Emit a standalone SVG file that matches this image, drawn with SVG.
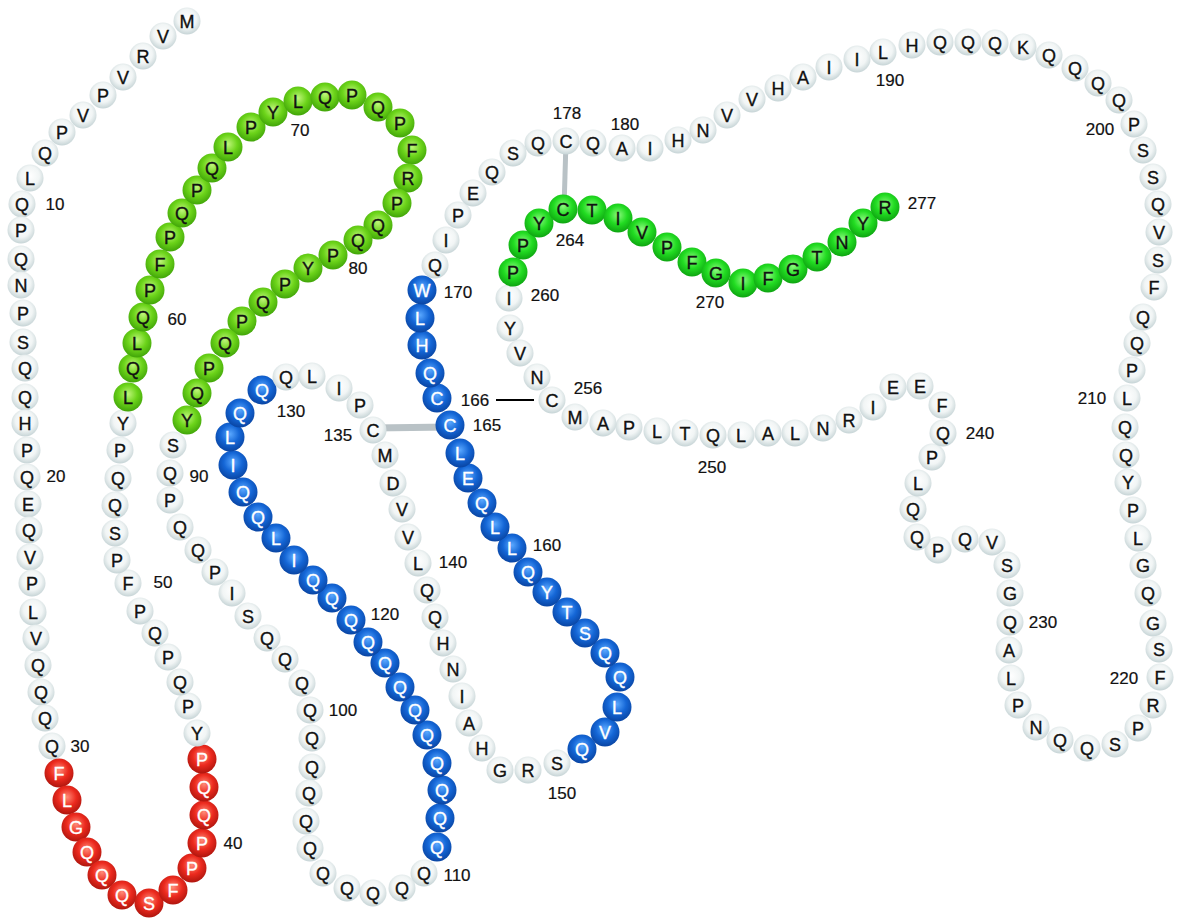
<svg xmlns="http://www.w3.org/2000/svg" width="1180" height="918" viewBox="0 0 1180 918">
<defs>
<radialGradient id="gw" cx="50%" cy="42%" r="58%"><stop offset="0" stop-color="#ffffff"/><stop offset="0.6" stop-color="#f1f5f5"/><stop offset="1" stop-color="#c6d4d6"/></radialGradient>
<radialGradient id="gg1" cx="50%" cy="40%" r="58%"><stop offset="0" stop-color="#bff57a"/><stop offset="0.55" stop-color="#6cd41a"/><stop offset="1" stop-color="#44a80a"/></radialGradient>
<radialGradient id="gg2" cx="50%" cy="40%" r="58%"><stop offset="0" stop-color="#8cf97e"/><stop offset="0.55" stop-color="#22dc22"/><stop offset="1" stop-color="#0fa812"/></radialGradient>
<radialGradient id="gb" cx="50%" cy="40%" r="58%"><stop offset="0" stop-color="#5aa8ff"/><stop offset="0.55" stop-color="#1466d6"/><stop offset="1" stop-color="#0a47a6"/></radialGradient>
<radialGradient id="gr" cx="50%" cy="40%" r="58%"><stop offset="0" stop-color="#ff8a78"/><stop offset="0.55" stop-color="#ec2a1e"/><stop offset="1" stop-color="#b3170f"/></radialGradient>
</defs>
<style>
text{font-family:"Liberation Sans",Arial,Helvetica,sans-serif;font-size:18px;text-anchor:middle;fill:#111;stroke:#111;stroke-width:0.35}
.w circle{fill:url(#gw)}
.g1 circle{fill:url(#gg1)}
.g2 circle{fill:url(#gg2)}
.b circle{fill:url(#gb)}
.r circle{fill:url(#gr)}
.b text,.r text{fill:#fff;stroke:#fff}
.lbl text{font-size:17px;stroke-width:0.2}
.ss{stroke:#b9c2c6;stroke-width:7;fill:none}
.ss2{stroke:#b9c2c6;stroke-width:5;fill:none}
.blk{stroke:#000;stroke-width:2;fill:none}
</style>
<rect width="1180" height="918" fill="#fff"/>
<g id="connectors">
<line class="ss" x1="373" y1="428" x2="450" y2="427"/>
<line class="ss2" x1="566" y1="141" x2="564" y2="209"/>
<line class="blk" x1="496" y1="400" x2="534" y2="400"/>
</g>
<g id="nodes">
<g id="r1" class="w"><circle cx="187" cy="21" r="13.5"/><text x="187" y="27.5">M</text></g>
<g id="r2" class="w"><circle cx="163" cy="36" r="13.5"/><text x="163" y="42.5">V</text></g>
<g id="r3" class="w"><circle cx="143" cy="56" r="13.5"/><text x="143" y="62.5">R</text></g>
<g id="r4" class="w"><circle cx="123" cy="77" r="13.5"/><text x="123" y="83.5">V</text></g>
<g id="r5" class="w"><circle cx="103" cy="95" r="13.5"/><text x="103" y="101.5">P</text></g>
<g id="r6" class="w"><circle cx="83" cy="115" r="13.5"/><text x="83" y="121.5">V</text></g>
<g id="r7" class="w"><circle cx="62" cy="132" r="13.5"/><text x="62" y="138.5">P</text></g>
<g id="r8" class="w"><circle cx="45" cy="153" r="13.5"/><text x="45" y="159.5">Q</text></g>
<g id="r9" class="w"><circle cx="30" cy="178" r="13.5"/><text x="30" y="184.5">L</text></g>
<g id="r10" class="w"><circle cx="22" cy="204" r="13.5"/><text x="22" y="210.5">Q</text></g>
<g id="r11" class="w"><circle cx="21" cy="230" r="13.5"/><text x="21" y="236.5">P</text></g>
<g id="r12" class="w"><circle cx="21" cy="259" r="13.5"/><text x="21" y="265.5">Q</text></g>
<g id="r13" class="w"><circle cx="21" cy="285" r="13.5"/><text x="21" y="291.5">N</text></g>
<g id="r14" class="w"><circle cx="23" cy="313" r="13.5"/><text x="23" y="319.5">P</text></g>
<g id="r15" class="w"><circle cx="23" cy="342" r="13.5"/><text x="23" y="348.5">S</text></g>
<g id="r16" class="w"><circle cx="25" cy="368" r="13.5"/><text x="25" y="374.5">Q</text></g>
<g id="r17" class="w"><circle cx="25" cy="397" r="13.5"/><text x="25" y="403.5">Q</text></g>
<g id="r18" class="w"><circle cx="25" cy="423" r="13.5"/><text x="25" y="429.5">H</text></g>
<g id="r19" class="w"><circle cx="27" cy="450" r="13.5"/><text x="27" y="456.5">P</text></g>
<g id="r20" class="w"><circle cx="27" cy="477" r="13.5"/><text x="27" y="483.5">Q</text></g>
<g id="r21" class="w"><circle cx="28" cy="504" r="13.5"/><text x="28" y="510.5">E</text></g>
<g id="r22" class="w"><circle cx="29" cy="530" r="13.5"/><text x="29" y="536.5">Q</text></g>
<g id="r23" class="w"><circle cx="30" cy="557" r="13.5"/><text x="30" y="563.5">V</text></g>
<g id="r24" class="w"><circle cx="32" cy="583" r="13.5"/><text x="32" y="589.5">P</text></g>
<g id="r25" class="w"><circle cx="33" cy="612" r="13.5"/><text x="33" y="618.5">L</text></g>
<g id="r26" class="w"><circle cx="36" cy="638" r="13.5"/><text x="36" y="644.5">V</text></g>
<g id="r27" class="w"><circle cx="38" cy="665" r="13.5"/><text x="38" y="671.5">Q</text></g>
<g id="r28" class="w"><circle cx="41" cy="692" r="13.5"/><text x="41" y="698.5">Q</text></g>
<g id="r29" class="w"><circle cx="45" cy="718" r="13.5"/><text x="45" y="724.5">Q</text></g>
<g id="r30" class="w"><circle cx="52" cy="746" r="13.5"/><text x="52" y="752.5">Q</text></g>
<g id="r31" class="r"><circle cx="59" cy="773" r="14.5"/><text x="59" y="779.5">F</text></g>
<g id="r32" class="r"><circle cx="67" cy="800" r="14.5"/><text x="67" y="806.5">L</text></g>
<g id="r33" class="r"><circle cx="76" cy="827" r="14.5"/><text x="76" y="833.5">G</text></g>
<g id="r34" class="r"><circle cx="87" cy="852" r="14.5"/><text x="87" y="858.5">Q</text></g>
<g id="r35" class="r"><circle cx="102" cy="875" r="14.5"/><text x="102" y="881.5">Q</text></g>
<g id="r36" class="r"><circle cx="122" cy="895" r="14.5"/><text x="122" y="901.5">Q</text></g>
<g id="r37" class="r"><circle cx="149" cy="903" r="14.5"/><text x="149" y="909.5">S</text></g>
<g id="r38" class="r"><circle cx="173" cy="890" r="14.5"/><text x="173" y="896.5">F</text></g>
<g id="r39" class="r"><circle cx="192" cy="868" r="14.5"/><text x="192" y="874.5">P</text></g>
<g id="r40" class="r"><circle cx="202" cy="843" r="14.5"/><text x="202" y="849.5">P</text></g>
<g id="r41" class="r"><circle cx="204" cy="815" r="14.5"/><text x="204" y="821.5">Q</text></g>
<g id="r42" class="r"><circle cx="204" cy="787" r="14.5"/><text x="204" y="793.5">Q</text></g>
<g id="r43" class="r"><circle cx="202" cy="759" r="14.5"/><text x="202" y="765.5">P</text></g>
<g id="r44" class="w"><circle cx="197" cy="733" r="13.5"/><text x="197" y="739.5">Y</text></g>
<g id="r45" class="w"><circle cx="188" cy="706" r="13.5"/><text x="188" y="712.5">P</text></g>
<g id="r46" class="w"><circle cx="180" cy="682" r="13.5"/><text x="180" y="688.5">Q</text></g>
<g id="r47" class="w"><circle cx="168" cy="657" r="13.5"/><text x="168" y="663.5">P</text></g>
<g id="r48" class="w"><circle cx="155" cy="633" r="13.5"/><text x="155" y="639.5">Q</text></g>
<g id="r49" class="w"><circle cx="140" cy="611" r="13.5"/><text x="140" y="617.5">P</text></g>
<g id="r50" class="w"><circle cx="128" cy="583" r="13.5"/><text x="128" y="589.5">F</text></g>
<g id="r51" class="w"><circle cx="117" cy="560" r="13.5"/><text x="117" y="566.5">P</text></g>
<g id="r52" class="w"><circle cx="115" cy="533" r="13.5"/><text x="115" y="539.5">S</text></g>
<g id="r53" class="w"><circle cx="115" cy="505" r="13.5"/><text x="115" y="511.5">Q</text></g>
<g id="r54" class="w"><circle cx="118" cy="478" r="13.5"/><text x="118" y="484.5">Q</text></g>
<g id="r55" class="w"><circle cx="120" cy="450" r="13.5"/><text x="120" y="456.5">P</text></g>
<g id="r56" class="w"><circle cx="123" cy="423" r="13.5"/><text x="123" y="429.5">Y</text></g>
<g id="r57" class="g1"><circle cx="128" cy="397" r="14.5"/><text x="128" y="403.5">L</text></g>
<g id="r58" class="g1"><circle cx="133" cy="368" r="14.5"/><text x="133" y="374.5">Q</text></g>
<g id="r59" class="g1"><circle cx="137" cy="343" r="14.5"/><text x="137" y="349.5">L</text></g>
<g id="r60" class="g1"><circle cx="143" cy="317" r="14.5"/><text x="143" y="323.5">Q</text></g>
<g id="r61" class="g1"><circle cx="150" cy="290" r="14.5"/><text x="150" y="296.5">P</text></g>
<g id="r62" class="g1"><circle cx="160" cy="264" r="14.5"/><text x="160" y="270.5">F</text></g>
<g id="r63" class="g1"><circle cx="170" cy="237" r="14.5"/><text x="170" y="243.5">P</text></g>
<g id="r64" class="g1"><circle cx="182" cy="213" r="14.5"/><text x="182" y="219.5">Q</text></g>
<g id="r65" class="g1"><circle cx="197" cy="190" r="14.5"/><text x="197" y="196.5">P</text></g>
<g id="r66" class="g1"><circle cx="212" cy="168" r="14.5"/><text x="212" y="174.5">Q</text></g>
<g id="r67" class="g1"><circle cx="228" cy="147" r="14.5"/><text x="228" y="153.5">L</text></g>
<g id="r68" class="g1"><circle cx="251" cy="127" r="14.5"/><text x="251" y="133.5">P</text></g>
<g id="r69" class="g1"><circle cx="273" cy="112" r="14.5"/><text x="273" y="118.5">Y</text></g>
<g id="r70" class="g1"><circle cx="298" cy="101" r="14.5"/><text x="298" y="107.5">L</text></g>
<g id="r71" class="g1"><circle cx="325" cy="97" r="14.5"/><text x="325" y="103.5">Q</text></g>
<g id="r72" class="g1"><circle cx="352" cy="95" r="14.5"/><text x="352" y="101.5">P</text></g>
<g id="r73" class="g1"><circle cx="378" cy="107" r="14.5"/><text x="378" y="113.5">Q</text></g>
<g id="r74" class="g1"><circle cx="400" cy="123" r="14.5"/><text x="400" y="129.5">P</text></g>
<g id="r75" class="g1"><circle cx="412" cy="150" r="14.5"/><text x="412" y="156.5">F</text></g>
<g id="r76" class="g1"><circle cx="408" cy="178" r="14.5"/><text x="408" y="184.5">R</text></g>
<g id="r77" class="g1"><circle cx="397" cy="203" r="14.5"/><text x="397" y="209.5">P</text></g>
<g id="r78" class="g1"><circle cx="378" cy="225" r="14.5"/><text x="378" y="231.5">Q</text></g>
<g id="r79" class="g1"><circle cx="358" cy="240" r="14.5"/><text x="358" y="246.5">Q</text></g>
<g id="r80" class="g1"><circle cx="333" cy="255" r="14.5"/><text x="333" y="261.5">P</text></g>
<g id="r81" class="g1"><circle cx="308" cy="268" r="14.5"/><text x="308" y="274.5">Y</text></g>
<g id="r82" class="g1"><circle cx="285" cy="284" r="14.5"/><text x="285" y="290.5">P</text></g>
<g id="r83" class="g1"><circle cx="263" cy="302" r="14.5"/><text x="263" y="308.5">Q</text></g>
<g id="r84" class="g1"><circle cx="242" cy="321" r="14.5"/><text x="242" y="327.5">P</text></g>
<g id="r85" class="g1"><circle cx="225" cy="343" r="14.5"/><text x="225" y="349.5">Q</text></g>
<g id="r86" class="g1"><circle cx="209" cy="368" r="14.5"/><text x="209" y="374.5">P</text></g>
<g id="r87" class="g1"><circle cx="197" cy="393" r="14.5"/><text x="197" y="399.5">Q</text></g>
<g id="r88" class="g1"><circle cx="187" cy="420" r="14.5"/><text x="187" y="426.5">Y</text></g>
<g id="r89" class="w"><circle cx="173" cy="445" r="13.5"/><text x="173" y="451.5">S</text></g>
<g id="r90" class="w"><circle cx="170" cy="473" r="13.5"/><text x="170" y="479.5">Q</text></g>
<g id="r91" class="w"><circle cx="170" cy="500" r="13.5"/><text x="170" y="506.5">P</text></g>
<g id="r92" class="w"><circle cx="180" cy="527" r="13.5"/><text x="180" y="533.5">Q</text></g>
<g id="r93" class="w"><circle cx="198" cy="550" r="13.5"/><text x="198" y="556.5">Q</text></g>
<g id="r94" class="w"><circle cx="215" cy="572" r="13.5"/><text x="215" y="578.5">P</text></g>
<g id="r95" class="w"><circle cx="232" cy="593" r="13.5"/><text x="232" y="599.5">I</text></g>
<g id="r96" class="w"><circle cx="248" cy="616" r="13.5"/><text x="248" y="622.5">S</text></g>
<g id="r97" class="w"><circle cx="267" cy="638" r="13.5"/><text x="267" y="644.5">Q</text></g>
<g id="r98" class="w"><circle cx="285" cy="659" r="13.5"/><text x="285" y="665.5">Q</text></g>
<g id="r99" class="w"><circle cx="302" cy="683" r="13.5"/><text x="302" y="689.5">Q</text></g>
<g id="r100" class="w"><circle cx="310" cy="710" r="13.5"/><text x="310" y="716.5">Q</text></g>
<g id="r101" class="w"><circle cx="312" cy="738" r="13.5"/><text x="312" y="744.5">Q</text></g>
<g id="r102" class="w"><circle cx="312" cy="767" r="13.5"/><text x="312" y="773.5">Q</text></g>
<g id="r103" class="w"><circle cx="309" cy="793" r="13.5"/><text x="309" y="799.5">Q</text></g>
<g id="r104" class="w"><circle cx="306" cy="821" r="13.5"/><text x="306" y="827.5">Q</text></g>
<g id="r105" class="w"><circle cx="310" cy="848" r="13.5"/><text x="310" y="854.5">Q</text></g>
<g id="r106" class="w"><circle cx="323" cy="873" r="13.5"/><text x="323" y="879.5">Q</text></g>
<g id="r107" class="w"><circle cx="347" cy="888" r="13.5"/><text x="347" y="894.5">Q</text></g>
<g id="r108" class="w"><circle cx="373" cy="893" r="13.5"/><text x="373" y="899.5">Q</text></g>
<g id="r109" class="w"><circle cx="402" cy="888" r="13.5"/><text x="402" y="894.5">Q</text></g>
<g id="r110" class="w"><circle cx="424" cy="873" r="13.5"/><text x="424" y="879.5">Q</text></g>
<g id="r111" class="b"><circle cx="437" cy="847" r="14.5"/><text x="437" y="853.5">Q</text></g>
<g id="r112" class="b"><circle cx="440" cy="818" r="14.5"/><text x="440" y="824.5">Q</text></g>
<g id="r113" class="b"><circle cx="442" cy="790" r="14.5"/><text x="442" y="796.5">Q</text></g>
<g id="r114" class="b"><circle cx="437" cy="763" r="14.5"/><text x="437" y="769.5">Q</text></g>
<g id="r115" class="b"><circle cx="427" cy="735" r="14.5"/><text x="427" y="741.5">Q</text></g>
<g id="r116" class="b"><circle cx="415" cy="710" r="14.5"/><text x="415" y="716.5">Q</text></g>
<g id="r117" class="b"><circle cx="400" cy="687" r="14.5"/><text x="400" y="693.5">Q</text></g>
<g id="r118" class="b"><circle cx="385" cy="663" r="14.5"/><text x="385" y="669.5">Q</text></g>
<g id="r119" class="b"><circle cx="368" cy="642" r="14.5"/><text x="368" y="648.5">Q</text></g>
<g id="r120" class="b"><circle cx="351" cy="620" r="14.5"/><text x="351" y="626.5">Q</text></g>
<g id="r121" class="b"><circle cx="332" cy="598" r="14.5"/><text x="332" y="604.5">Q</text></g>
<g id="r122" class="b"><circle cx="313" cy="580" r="14.5"/><text x="313" y="586.5">Q</text></g>
<g id="r123" class="b"><circle cx="294" cy="560" r="14.5"/><text x="294" y="566.5">I</text></g>
<g id="r124" class="b"><circle cx="276" cy="538" r="14.5"/><text x="276" y="544.5">L</text></g>
<g id="r125" class="b"><circle cx="258" cy="517" r="14.5"/><text x="258" y="523.5">Q</text></g>
<g id="r126" class="b"><circle cx="243" cy="492" r="14.5"/><text x="243" y="498.5">Q</text></g>
<g id="r127" class="b"><circle cx="233" cy="465" r="14.5"/><text x="233" y="471.5">I</text></g>
<g id="r128" class="b"><circle cx="230" cy="437" r="14.5"/><text x="230" y="443.5">L</text></g>
<g id="r129" class="b"><circle cx="240" cy="413" r="14.5"/><text x="240" y="419.5">Q</text></g>
<g id="r130" class="b"><circle cx="262" cy="390" r="14.5"/><text x="262" y="396.5">Q</text></g>
<g id="r131" class="w"><circle cx="286" cy="377" r="13.5"/><text x="286" y="383.5">Q</text></g>
<g id="r132" class="w"><circle cx="312" cy="376" r="13.5"/><text x="312" y="382.5">L</text></g>
<g id="r133" class="w"><circle cx="339" cy="388" r="13.5"/><text x="339" y="394.5">I</text></g>
<g id="r134" class="w"><circle cx="360" cy="405" r="13.5"/><text x="360" y="411.5">P</text></g>
<g id="r135" class="w"><circle cx="373" cy="430" r="13.5"/><text x="373" y="436.5">C</text></g>
<g id="r136" class="w"><circle cx="385" cy="455" r="13.5"/><text x="385" y="461.5">M</text></g>
<g id="r137" class="w"><circle cx="393" cy="483" r="13.5"/><text x="393" y="489.5">D</text></g>
<g id="r138" class="w"><circle cx="402" cy="509" r="13.5"/><text x="402" y="515.5">V</text></g>
<g id="r139" class="w"><circle cx="408" cy="537" r="13.5"/><text x="408" y="543.5">V</text></g>
<g id="r140" class="w"><circle cx="418" cy="563" r="13.5"/><text x="418" y="569.5">L</text></g>
<g id="r141" class="w"><circle cx="427" cy="590" r="13.5"/><text x="427" y="596.5">Q</text></g>
<g id="r142" class="w"><circle cx="435" cy="617" r="13.5"/><text x="435" y="623.5">Q</text></g>
<g id="r143" class="w"><circle cx="443" cy="643" r="13.5"/><text x="443" y="649.5">H</text></g>
<g id="r144" class="w"><circle cx="453" cy="669" r="13.5"/><text x="453" y="675.5">N</text></g>
<g id="r145" class="w"><circle cx="462" cy="696" r="13.5"/><text x="462" y="702.5">I</text></g>
<g id="r146" class="w"><circle cx="469" cy="723" r="13.5"/><text x="469" y="729.5">A</text></g>
<g id="r147" class="w"><circle cx="482" cy="748" r="13.5"/><text x="482" y="754.5">H</text></g>
<g id="r148" class="w"><circle cx="500" cy="770" r="13.5"/><text x="500" y="776.5">G</text></g>
<g id="r149" class="w"><circle cx="528" cy="770" r="13.5"/><text x="528" y="776.5">R</text></g>
<g id="r150" class="w"><circle cx="557" cy="763" r="13.5"/><text x="557" y="769.5">S</text></g>
<g id="r151" class="b"><circle cx="582" cy="749" r="14.5"/><text x="582" y="755.5">Q</text></g>
<g id="r152" class="b"><circle cx="605" cy="732" r="14.5"/><text x="605" y="738.5">V</text></g>
<g id="r153" class="b"><circle cx="617" cy="707" r="14.5"/><text x="617" y="713.5">L</text></g>
<g id="r154" class="b"><circle cx="620" cy="677" r="14.5"/><text x="620" y="683.5">Q</text></g>
<g id="r155" class="b"><circle cx="605" cy="653" r="14.5"/><text x="605" y="659.5">Q</text></g>
<g id="r156" class="b"><circle cx="585" cy="633" r="14.5"/><text x="585" y="639.5">S</text></g>
<g id="r157" class="b"><circle cx="567" cy="612" r="14.5"/><text x="567" y="618.5">T</text></g>
<g id="r158" class="b"><circle cx="547" cy="592" r="14.5"/><text x="547" y="598.5">Y</text></g>
<g id="r159" class="b"><circle cx="528" cy="572" r="14.5"/><text x="528" y="578.5">Q</text></g>
<g id="r160" class="b"><circle cx="512" cy="548" r="14.5"/><text x="512" y="554.5">L</text></g>
<g id="r161" class="b"><circle cx="495" cy="527" r="14.5"/><text x="495" y="533.5">L</text></g>
<g id="r162" class="b"><circle cx="482" cy="503" r="14.5"/><text x="482" y="509.5">Q</text></g>
<g id="r163" class="b"><circle cx="468" cy="478" r="14.5"/><text x="468" y="484.5">E</text></g>
<g id="r164" class="b"><circle cx="460" cy="453" r="14.5"/><text x="460" y="459.5">L</text></g>
<g id="r165" class="b"><circle cx="450" cy="425" r="14.5"/><text x="450" y="431.5">C</text></g>
<g id="r166" class="b"><circle cx="437" cy="398" r="14.5"/><text x="437" y="404.5">C</text></g>
<g id="r167" class="b"><circle cx="430" cy="373" r="14.5"/><text x="430" y="379.5">Q</text></g>
<g id="r168" class="b"><circle cx="422" cy="345" r="14.5"/><text x="422" y="351.5">H</text></g>
<g id="r169" class="b"><circle cx="420" cy="318" r="14.5"/><text x="420" y="324.5">L</text></g>
<g id="r170" class="b"><circle cx="422" cy="290" r="14.5"/><text x="422" y="296.5">W</text></g>
<g id="r171" class="w"><circle cx="435" cy="265" r="13.5"/><text x="435" y="271.5">Q</text></g>
<g id="r172" class="w"><circle cx="446" cy="240" r="13.5"/><text x="446" y="246.5">I</text></g>
<g id="r173" class="w"><circle cx="458" cy="215" r="13.5"/><text x="458" y="221.5">P</text></g>
<g id="r174" class="w"><circle cx="473" cy="193" r="13.5"/><text x="473" y="199.5">E</text></g>
<g id="r175" class="w"><circle cx="492" cy="172" r="13.5"/><text x="492" y="178.5">Q</text></g>
<g id="r176" class="w"><circle cx="513" cy="153" r="13.5"/><text x="513" y="159.5">S</text></g>
<g id="r177" class="w"><circle cx="538" cy="143" r="13.5"/><text x="538" y="149.5">Q</text></g>
<g id="r178" class="w"><circle cx="566" cy="141" r="13.5"/><text x="566" y="147.5">C</text></g>
<g id="r179" class="w"><circle cx="593" cy="143" r="13.5"/><text x="593" y="149.5">Q</text></g>
<g id="r180" class="w"><circle cx="622" cy="148" r="13.5"/><text x="622" y="154.5">A</text></g>
<g id="r181" class="w"><circle cx="650" cy="148" r="13.5"/><text x="650" y="154.5">I</text></g>
<g id="r182" class="w"><circle cx="678" cy="140" r="13.5"/><text x="678" y="146.5">H</text></g>
<g id="r183" class="w"><circle cx="703" cy="130" r="13.5"/><text x="703" y="136.5">N</text></g>
<g id="r184" class="w"><circle cx="727" cy="115" r="13.5"/><text x="727" y="121.5">V</text></g>
<g id="r185" class="w"><circle cx="752" cy="99" r="13.5"/><text x="752" y="105.5">V</text></g>
<g id="r186" class="w"><circle cx="778" cy="88" r="13.5"/><text x="778" y="94.5">H</text></g>
<g id="r187" class="w"><circle cx="803" cy="77" r="13.5"/><text x="803" y="83.5">A</text></g>
<g id="r188" class="w"><circle cx="829" cy="67" r="13.5"/><text x="829" y="73.5">I</text></g>
<g id="r189" class="w"><circle cx="857" cy="59" r="13.5"/><text x="857" y="65.5">I</text></g>
<g id="r190" class="w"><circle cx="883" cy="52" r="13.5"/><text x="883" y="58.5">L</text></g>
<g id="r191" class="w"><circle cx="912" cy="45" r="13.5"/><text x="912" y="51.5">H</text></g>
<g id="r192" class="w"><circle cx="940" cy="42" r="13.5"/><text x="940" y="48.5">Q</text></g>
<g id="r193" class="w"><circle cx="968" cy="42" r="13.5"/><text x="968" y="48.5">Q</text></g>
<g id="r194" class="w"><circle cx="995" cy="43" r="13.5"/><text x="995" y="49.5">Q</text></g>
<g id="r195" class="w"><circle cx="1023" cy="47" r="13.5"/><text x="1023" y="53.5">K</text></g>
<g id="r196" class="w"><circle cx="1049" cy="55" r="13.5"/><text x="1049" y="61.5">Q</text></g>
<g id="r197" class="w"><circle cx="1075" cy="68" r="13.5"/><text x="1075" y="74.5">Q</text></g>
<g id="r198" class="w"><circle cx="1098" cy="83" r="13.5"/><text x="1098" y="89.5">Q</text></g>
<g id="r199" class="w"><circle cx="1119" cy="100" r="13.5"/><text x="1119" y="106.5">Q</text></g>
<g id="r200" class="w"><circle cx="1134" cy="124" r="13.5"/><text x="1134" y="130.5">P</text></g>
<g id="r201" class="w"><circle cx="1143" cy="150" r="13.5"/><text x="1143" y="156.5">S</text></g>
<g id="r202" class="w"><circle cx="1153" cy="177" r="13.5"/><text x="1153" y="183.5">S</text></g>
<g id="r203" class="w"><circle cx="1158" cy="204" r="13.5"/><text x="1158" y="210.5">Q</text></g>
<g id="r204" class="w"><circle cx="1159" cy="232" r="13.5"/><text x="1159" y="238.5">V</text></g>
<g id="r205" class="w"><circle cx="1158" cy="260" r="13.5"/><text x="1158" y="266.5">S</text></g>
<g id="r206" class="w"><circle cx="1154" cy="287" r="13.5"/><text x="1154" y="293.5">F</text></g>
<g id="r207" class="w"><circle cx="1143" cy="317" r="13.5"/><text x="1143" y="323.5">Q</text></g>
<g id="r208" class="w"><circle cx="1137" cy="343" r="13.5"/><text x="1137" y="349.5">Q</text></g>
<g id="r209" class="w"><circle cx="1132" cy="370" r="13.5"/><text x="1132" y="376.5">P</text></g>
<g id="r210" class="w"><circle cx="1127" cy="398" r="13.5"/><text x="1127" y="404.5">L</text></g>
<g id="r211" class="w"><circle cx="1125" cy="427" r="13.5"/><text x="1125" y="433.5">Q</text></g>
<g id="r212" class="w"><circle cx="1126" cy="455" r="13.5"/><text x="1126" y="461.5">Q</text></g>
<g id="r213" class="w"><circle cx="1128" cy="482" r="13.5"/><text x="1128" y="488.5">Y</text></g>
<g id="r214" class="w"><circle cx="1133" cy="510" r="13.5"/><text x="1133" y="516.5">P</text></g>
<g id="r215" class="w"><circle cx="1138" cy="538" r="13.5"/><text x="1138" y="544.5">L</text></g>
<g id="r216" class="w"><circle cx="1143" cy="565" r="13.5"/><text x="1143" y="571.5">G</text></g>
<g id="r217" class="w"><circle cx="1148" cy="593" r="13.5"/><text x="1148" y="599.5">Q</text></g>
<g id="r218" class="w"><circle cx="1153" cy="623" r="13.5"/><text x="1153" y="629.5">G</text></g>
<g id="r219" class="w"><circle cx="1159" cy="649" r="13.5"/><text x="1159" y="655.5">S</text></g>
<g id="r220" class="w"><circle cx="1160" cy="677" r="13.5"/><text x="1160" y="683.5">F</text></g>
<g id="r221" class="w"><circle cx="1153" cy="705" r="13.5"/><text x="1153" y="711.5">R</text></g>
<g id="r222" class="w"><circle cx="1138" cy="728" r="13.5"/><text x="1138" y="734.5">P</text></g>
<g id="r223" class="w"><circle cx="1115" cy="744" r="13.5"/><text x="1115" y="750.5">S</text></g>
<g id="r224" class="w"><circle cx="1087" cy="748" r="13.5"/><text x="1087" y="754.5">Q</text></g>
<g id="r225" class="w"><circle cx="1060" cy="740" r="13.5"/><text x="1060" y="746.5">Q</text></g>
<g id="r226" class="w"><circle cx="1036" cy="727" r="13.5"/><text x="1036" y="733.5">N</text></g>
<g id="r227" class="w"><circle cx="1018" cy="705" r="13.5"/><text x="1018" y="711.5">P</text></g>
<g id="r228" class="w"><circle cx="1011" cy="678" r="13.5"/><text x="1011" y="684.5">L</text></g>
<g id="r229" class="w"><circle cx="1009" cy="650" r="13.5"/><text x="1009" y="656.5">A</text></g>
<g id="r230" class="w"><circle cx="1010" cy="622" r="13.5"/><text x="1010" y="628.5">Q</text></g>
<g id="r231" class="w"><circle cx="1010" cy="593" r="13.5"/><text x="1010" y="599.5">G</text></g>
<g id="r232" class="w"><circle cx="1007" cy="565" r="13.5"/><text x="1007" y="571.5">S</text></g>
<g id="r233" class="w"><circle cx="992" cy="542" r="13.5"/><text x="992" y="548.5">V</text></g>
<g id="r234" class="w"><circle cx="965" cy="539" r="13.5"/><text x="965" y="545.5">Q</text></g>
<g id="r235" class="w"><circle cx="938" cy="550" r="13.5"/><text x="938" y="556.5">P</text></g>
<g id="r236" class="w"><circle cx="917" cy="537" r="13.5"/><text x="917" y="543.5">Q</text></g>
<g id="r237" class="w"><circle cx="913" cy="509" r="13.5"/><text x="913" y="515.5">Q</text></g>
<g id="r238" class="w"><circle cx="918" cy="483" r="13.5"/><text x="918" y="489.5">L</text></g>
<g id="r239" class="w"><circle cx="932" cy="457" r="13.5"/><text x="932" y="463.5">P</text></g>
<g id="r240" class="w"><circle cx="943" cy="433" r="13.5"/><text x="943" y="439.5">Q</text></g>
<g id="r241" class="w"><circle cx="942" cy="405" r="13.5"/><text x="942" y="411.5">F</text></g>
<g id="r242" class="w"><circle cx="920" cy="386" r="13.5"/><text x="920" y="392.5">E</text></g>
<g id="r243" class="w"><circle cx="893" cy="387" r="13.5"/><text x="893" y="393.5">E</text></g>
<g id="r244" class="w"><circle cx="873" cy="407" r="13.5"/><text x="873" y="413.5">I</text></g>
<g id="r245" class="w"><circle cx="849" cy="420" r="13.5"/><text x="849" y="426.5">R</text></g>
<g id="r246" class="w"><circle cx="823" cy="428" r="13.5"/><text x="823" y="434.5">N</text></g>
<g id="r247" class="w"><circle cx="795" cy="433" r="13.5"/><text x="795" y="439.5">L</text></g>
<g id="r248" class="w"><circle cx="768" cy="433" r="13.5"/><text x="768" y="439.5">A</text></g>
<g id="r249" class="w"><circle cx="741" cy="435" r="13.5"/><text x="741" y="441.5">L</text></g>
<g id="r250" class="w"><circle cx="713" cy="435" r="13.5"/><text x="713" y="441.5">Q</text></g>
<g id="r251" class="w"><circle cx="685" cy="433" r="13.5"/><text x="685" y="439.5">T</text></g>
<g id="r252" class="w"><circle cx="657" cy="431" r="13.5"/><text x="657" y="437.5">L</text></g>
<g id="r253" class="w"><circle cx="629" cy="427" r="13.5"/><text x="629" y="433.5">P</text></g>
<g id="r254" class="w"><circle cx="603" cy="423" r="13.5"/><text x="603" y="429.5">A</text></g>
<g id="r255" class="w"><circle cx="575" cy="417" r="13.5"/><text x="575" y="423.5">M</text></g>
<g id="r256" class="w"><circle cx="552" cy="400" r="13.5"/><text x="552" y="406.5">C</text></g>
<g id="r257" class="w"><circle cx="537" cy="377" r="13.5"/><text x="537" y="383.5">N</text></g>
<g id="r258" class="w"><circle cx="520" cy="353" r="13.5"/><text x="520" y="359.5">V</text></g>
<g id="r259" class="w"><circle cx="510" cy="328" r="13.5"/><text x="510" y="334.5">Y</text></g>
<g id="r260" class="w"><circle cx="509" cy="298" r="13.5"/><text x="509" y="304.5">I</text></g>
<g id="r261" class="g2"><circle cx="513" cy="272" r="14.5"/><text x="513" y="278.5">P</text></g>
<g id="r262" class="g2"><circle cx="523" cy="245" r="14.5"/><text x="523" y="251.5">P</text></g>
<g id="r263" class="g2"><circle cx="539" cy="223" r="14.5"/><text x="539" y="229.5">Y</text></g>
<g id="r264" class="g2"><circle cx="563" cy="209" r="14.5"/><text x="563" y="215.5">C</text></g>
<g id="r265" class="g2"><circle cx="592" cy="210" r="14.5"/><text x="592" y="216.5">T</text></g>
<g id="r266" class="g2"><circle cx="618" cy="218" r="14.5"/><text x="618" y="224.5">I</text></g>
<g id="r267" class="g2"><circle cx="642" cy="232" r="14.5"/><text x="642" y="238.5">V</text></g>
<g id="r268" class="g2"><circle cx="667" cy="247" r="14.5"/><text x="667" y="253.5">P</text></g>
<g id="r269" class="g2"><circle cx="692" cy="262" r="14.5"/><text x="692" y="268.5">F</text></g>
<g id="r270" class="g2"><circle cx="716" cy="273" r="14.5"/><text x="716" y="279.5">G</text></g>
<g id="r271" class="g2"><circle cx="743" cy="283" r="14.5"/><text x="743" y="289.5">I</text></g>
<g id="r272" class="g2"><circle cx="768" cy="278" r="14.5"/><text x="768" y="284.5">F</text></g>
<g id="r273" class="g2"><circle cx="793" cy="269" r="14.5"/><text x="793" y="275.5">G</text></g>
<g id="r274" class="g2"><circle cx="817" cy="257" r="14.5"/><text x="817" y="263.5">T</text></g>
<g id="r275" class="g2"><circle cx="842" cy="242" r="14.5"/><text x="842" y="248.5">N</text></g>
<g id="r276" class="g2"><circle cx="863" cy="223" r="14.5"/><text x="863" y="229.5">Y</text></g>
<g id="r277" class="g2"><circle cx="885" cy="207" r="14.5"/><text x="885" y="213.5">R</text></g>
</g>
<g id="labels" class="lbl">
<text x="55" y="210">10</text>
<text x="56" y="482">20</text>
<text x="80" y="752">30</text>
<text x="233" y="849">40</text>
<text x="163" y="588">50</text>
<text x="177" y="325">60</text>
<text x="300" y="136">70</text>
<text x="358" y="274">80</text>
<text x="199" y="482">90</text>
<text x="343" y="716">100</text>
<text x="457" y="881">110</text>
<text x="385" y="620">120</text>
<text x="291" y="417">130</text>
<text x="338" y="441">135</text>
<text x="453" y="568">140</text>
<text x="562" y="799">150</text>
<text x="547" y="551">160</text>
<text x="487" y="431">165</text>
<text x="475" y="406">166</text>
<text x="458" y="298">170</text>
<text x="567" y="119">178</text>
<text x="625" y="130">180</text>
<text x="890" y="86">190</text>
<text x="1100" y="135">200</text>
<text x="1092" y="404">210</text>
<text x="1124" y="684">220</text>
<text x="1043" y="628">230</text>
<text x="980" y="439">240</text>
<text x="712" y="473">250</text>
<text x="588" y="394">256</text>
<text x="545" y="301">260</text>
<text x="570" y="246">264</text>
<text x="710" y="308">270</text>
<text x="922" y="209">277</text>
</g>
</svg>
